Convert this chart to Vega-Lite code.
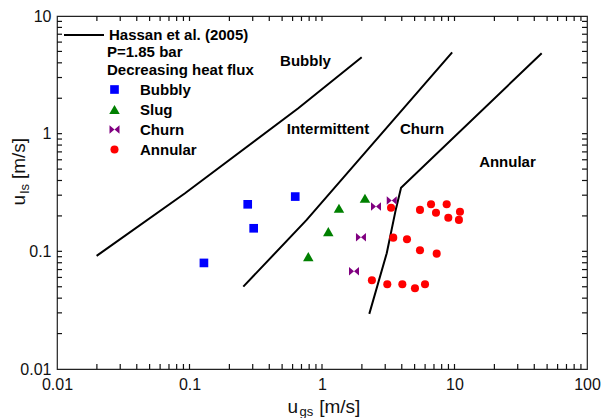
{
  "$schema": "https://vega.github.io/schema/vega-lite/v6.json",
  "width": 530,
  "height": 353,
  "autosize": {"type": "none"},
  "padding": {"left": 57, "top": 16, "right": 14, "bottom": 49},
  "background": "white",
  "config": {
    "font": "Liberation Sans",
    "view": {"stroke": "#222", "strokeWidth": 1.2},
    "axis": {
      "domain": false, "grid": false,
      "labelFont": "Liberation Sans", "labelFontSize": 16, "labelColor": "#111",
      "titleFont": "Liberation Sans", "titleFontWeight": "normal", "titleColor": "#111",
      "labelFlush": false, "labelOverlap": false
    }
  },
  "datasets": {
    "lines": [
      {"boundary": "b1", "src": "Hassan et al. (2005)", "ugs": 0.0199, "uls": 0.0914},
      {"boundary": "b1", "src": "Hassan et al. (2005)", "ugs": 0.0925, "uls": 0.3116},
      {"boundary": "b1", "src": "Hassan et al. (2005)", "ugs": 0.662, "uls": 1.644},
      {"boundary": "b1", "src": "Hassan et al. (2005)", "ugs": 1.993, "uls": 4.46},
      {"boundary": "b2", "src": "Hassan et al. (2005)", "ugs": 0.2547, "uls": 0.0501},
      {"boundary": "b2", "src": "Hassan et al. (2005)", "ugs": 0.766, "uls": 0.1848},
      {"boundary": "b2", "src": "Hassan et al. (2005)", "ugs": 9.6, "uls": 4.9},
      {"boundary": "b3", "src": "Hassan et al. (2005)", "ugs": 2.275, "uls": 0.0294},
      {"boundary": "b3", "src": "Hassan et al. (2005)", "ugs": 3.08, "uls": 0.0964},
      {"boundary": "b3", "src": "Hassan et al. (2005)", "ugs": 3.6, "uls": 0.2249},
      {"boundary": "b3", "src": "Hassan et al. (2005)", "ugs": 3.95, "uls": 0.3477},
      {"boundary": "b3", "src": "Hassan et al. (2005)", "ugs": 45.5, "uls": 4.82}
    ],
    "points": [
      {"regime": "Bubbly", "ugs": 0.275, "uls": 0.251},
      {"regime": "Bubbly", "ugs": 0.628, "uls": 0.292},
      {"regime": "Bubbly", "ugs": 0.305, "uls": 0.157},
      {"regime": "Bubbly", "ugs": 0.1285, "uls": 0.0797},
      {"regime": "Slug", "ugs": 1.343, "uls": 0.232},
      {"regime": "Slug", "ugs": 2.11, "uls": 0.2825},
      {"regime": "Slug", "ugs": 1.116, "uls": 0.147},
      {"regime": "Slug", "ugs": 0.788, "uls": 0.0902},
      {"regime": "Churn", "ugs": 3.36, "uls": 0.27},
      {"regime": "Churn", "ugs": 2.556, "uls": 0.24},
      {"regime": "Churn", "ugs": 1.968, "uls": 0.132},
      {"regime": "Churn", "ugs": 1.744, "uls": 0.0678},
      {"regime": "Annular", "ugs": 3.32, "uls": 0.235},
      {"regime": "Annular", "ugs": 5.49, "uls": 0.225},
      {"regime": "Annular", "ugs": 6.65, "uls": 0.251},
      {"regime": "Annular", "ugs": 7.25, "uls": 0.213},
      {"regime": "Annular", "ugs": 8.73, "uls": 0.251},
      {"regime": "Annular", "ugs": 8.98, "uls": 0.193},
      {"regime": "Annular", "ugs": 11.0, "uls": 0.217},
      {"regime": "Annular", "ugs": 10.8, "uls": 0.185},
      {"regime": "Annular", "ugs": 3.45, "uls": 0.1307},
      {"regime": "Annular", "ugs": 4.38, "uls": 0.1267},
      {"regime": "Annular", "ugs": 5.49, "uls": 0.1021},
      {"regime": "Annular", "ugs": 7.34, "uls": 0.0956},
      {"regime": "Annular", "ugs": 2.38, "uls": 0.0568},
      {"regime": "Annular", "ugs": 3.11, "uls": 0.0525},
      {"regime": "Annular", "ugs": 4.04, "uls": 0.0525},
      {"regime": "Annular", "ugs": 5.03, "uls": 0.0486},
      {"regime": "Annular", "ugs": 5.99, "uls": 0.0525}
    ],
    "labels": [
      {"text": "Bubbly", "ugs": 0.751, "uls": 4.148},
      {"text": "Intermittent", "ugs": 1.11, "uls": 1.096},
      {"text": "Churn", "ugs": 5.685, "uls": 1.096},
      {"text": "Annular", "ugs": 25.1, "uls": 0.578}
    ],
    "xticks": [
      {"v": 0.02}, {"v": 0.03}, {"v": 0.04}, {"v": 0.05}, {"v": 0.06}, {"v": 0.07}, {"v": 0.08}, {"v": 0.09},
      {"v": 0.1}, {"v": 0.2}, {"v": 0.3}, {"v": 0.4}, {"v": 0.5}, {"v": 0.6}, {"v": 0.7}, {"v": 0.8}, {"v": 0.9},
      {"v": 1}, {"v": 2}, {"v": 3}, {"v": 4}, {"v": 5}, {"v": 6}, {"v": 7}, {"v": 8}, {"v": 9},
      {"v": 10}, {"v": 20}, {"v": 30}, {"v": 40}, {"v": 50}, {"v": 60}, {"v": 70}, {"v": 80}, {"v": 90}
    ],
    "yticks": [
      {"v": 0.02}, {"v": 0.03}, {"v": 0.04}, {"v": 0.05}, {"v": 0.06}, {"v": 0.07}, {"v": 0.08}, {"v": 0.09},
      {"v": 0.1}, {"v": 0.2}, {"v": 0.3}, {"v": 0.4}, {"v": 0.5}, {"v": 0.6}, {"v": 0.7}, {"v": 0.8}, {"v": 0.9},
      {"v": 1}, {"v": 2}, {"v": 3}, {"v": 4}, {"v": 5}, {"v": 6}, {"v": 7}, {"v": 8}, {"v": 9}
    ]
  },
  "layer": [
    {
      "data": {"name": "lines"},
      "mark": {"type": "line", "strokeWidth": 2},
      "encoding": {
        "x": {
          "field": "ugs", "type": "quantitative",
          "scale": {"type": "log", "domain": [0.01, 100], "nice": false},
          "axis": {
            "orient": "bottom", "ticks": false,
            "values": [0.01, 0.1, 1, 10, 100],
            "labelExpr": "format(datum.value, '~g')",
            "labelPadding": 7,
            "title": "u\u00a0\u00a0\u00a0\u00a0[m/s]", "titleFontSize": 19,
            "titleX": 230, "titleY": 43, "titleAlign": "left", "titleBaseline": "alphabetic", "titleAngle": 0
          }
        },
        "y": {
          "field": "uls", "type": "quantitative",
          "scale": {"type": "log", "domain": [0.01, 10], "nice": false},
          "axis": {
            "orient": "left", "ticks": false,
            "values": [0.01, 0.1, 1, 10],
            "labelExpr": "format(datum.value, '~g')",
            "labelPadding": 6,
            "title": "u\u00a0\u00a0\u00a0[m/s]", "titleFontSize": 19,
            "titleX": -33, "titleY": 189, "titleAlign": "left", "titleBaseline": "alphabetic", "titleAngle": -90
          }
        },
        "detail": {"field": "boundary"},
        "stroke": {
          "field": "src", "type": "nominal",
          "scale": {"domain": ["Hassan et al. (2005)"], "range": ["black"]},
          "legend": {
            "orient": "none", "legendX": 6, "legendY": -2, "title": null,
            "symbolType": "stroke", "symbolSize": 1600, "symbolStrokeWidth": 2,
            "labelOffset": 4, "labelFontSize": 15, "labelFontWeight": "bold", "labelColor": "black",
            "padding": 0
          }
        }
      }
    },
    {
      "data": {"name": "points"},
      "mark": {"type": "point", "filled": true, "opacity": 1, "strokeWidth": 0},
      "encoding": {
        "x": {"field": "ugs", "type": "quantitative", "axis": null},
        "y": {"field": "uls", "type": "quantitative", "axis": null},
        "color": {
          "field": "regime", "type": "nominal",
          "scale": {"domain": ["Bubbly", "Slug", "Churn", "Annular"], "range": ["#0000ff", "#008000", "#800080", "#ff0000"]},
          "legend": {
            "orient": "none", "legendX": 50, "legendY": 29,
            "title": ["P=1.85 bar", "Decreasing heat flux"],
            "titleFontSize": 15, "titleFontWeight": "bold", "titleColor": "black", "titleLineHeight": 18, "titlePadding": 4,
            "labelFontSize": 15, "labelFontWeight": "bold", "labelColor": "black",
            "symbolSize": 64, "labelOffset": 18, "rowPadding": 4, "padding": 0
          }
        },
        "shape": {
          "field": "regime", "type": "nominal",
          "scale": {"domain": ["Bubbly", "Slug", "Churn", "Annular"], "range": ["square", "triangle-up", "M-1,-0.85L0,0L-1,0.85ZM1,-0.85L0,0L1,0.85Z", "circle"]},
          "legend": {
            "orient": "none", "legendX": 50, "legendY": 29,
            "title": ["P=1.85 bar", "Decreasing heat flux"],
            "titleFontSize": 15, "titleFontWeight": "bold", "titleColor": "black", "titleLineHeight": 18, "titlePadding": 4,
            "labelFontSize": 15, "labelFontWeight": "bold", "labelColor": "black",
            "symbolSize": 64, "labelOffset": 18, "rowPadding": 4, "padding": 0
          }
        },
        "size": {
          "field": "regime", "type": "nominal",
          "scale": {"type": "ordinal", "domain": ["Bubbly", "Slug", "Churn", "Annular"], "range": [75, 110, 100, 65]},
          "legend": null
        }
      }
    },
    {
      "data": {"name": "labels"},
      "mark": {"type": "text", "fontSize": 15, "fontWeight": "bold", "color": "black", "align": "center", "baseline": "middle"},
      "encoding": {
        "x": {"field": "ugs", "type": "quantitative", "axis": null},
        "y": {"field": "uls", "type": "quantitative", "axis": null},
        "text": {"field": "text"}
      }
    },
    {
      "data": {"name": "xticks"},
      "mark": {"type": "point", "shape": "M0,0L0,-1", "filled": false, "size": 100, "color": "#111", "strokeWidth": 1.2, "opacity": 1},
      "encoding": {
        "x": {"field": "v", "type": "quantitative", "axis": null},
        "y": {"datum": 0.01, "type": "quantitative", "axis": null}
      }
    },
    {
      "data": {"name": "xticks"},
      "mark": {"type": "point", "shape": "M0,0L0,1", "filled": false, "size": 100, "color": "#111", "strokeWidth": 1.2, "opacity": 1},
      "encoding": {
        "x": {"field": "v", "type": "quantitative", "axis": null},
        "y": {"datum": 10, "type": "quantitative", "axis": null}
      }
    },
    {
      "data": {"name": "yticks"},
      "mark": {"type": "point", "shape": "M0,0L1,0", "filled": false, "size": 100, "color": "#111", "strokeWidth": 1.2, "opacity": 1},
      "encoding": {
        "y": {"field": "v", "type": "quantitative", "axis": null},
        "x": {"datum": 0.01, "type": "quantitative", "axis": null}
      }
    },
    {
      "data": {"name": "yticks"},
      "mark": {"type": "point", "shape": "M0,0L-1,0", "filled": false, "size": 100, "color": "#111", "strokeWidth": 1.2, "opacity": 1},
      "encoding": {
        "y": {"field": "v", "type": "quantitative", "axis": null},
        "x": {"datum": 100, "type": "quantitative", "axis": null}
      }
    },
    {
      "data": {"name": "lines"},
      "mark": {"type": "point", "opacity": 0},
      "encoding": {
        "x": {
          "field": "ugs", "type": "quantitative",
          "axis": {
            "orient": "top", "ticks": false, "labels": false, "values": [],
            "title": "gs", "titleFontSize": 13,
            "titleX": 242, "titleY": 399, "titleAlign": "left", "titleBaseline": "alphabetic", "titleAngle": 0
          }
        },
        "y": {
          "field": "uls", "type": "quantitative",
          "axis": {
            "orient": "right", "ticks": false, "labels": false, "values": [],
            "title": "ls", "titleFontSize": 13,
            "titleX": -559, "titleY": 177, "titleAlign": "left", "titleBaseline": "alphabetic", "titleAngle": -90
          }
        }
      }
    }
  ],
  "resolve": {"axis": {"x": "independent", "y": "independent"}}
}
